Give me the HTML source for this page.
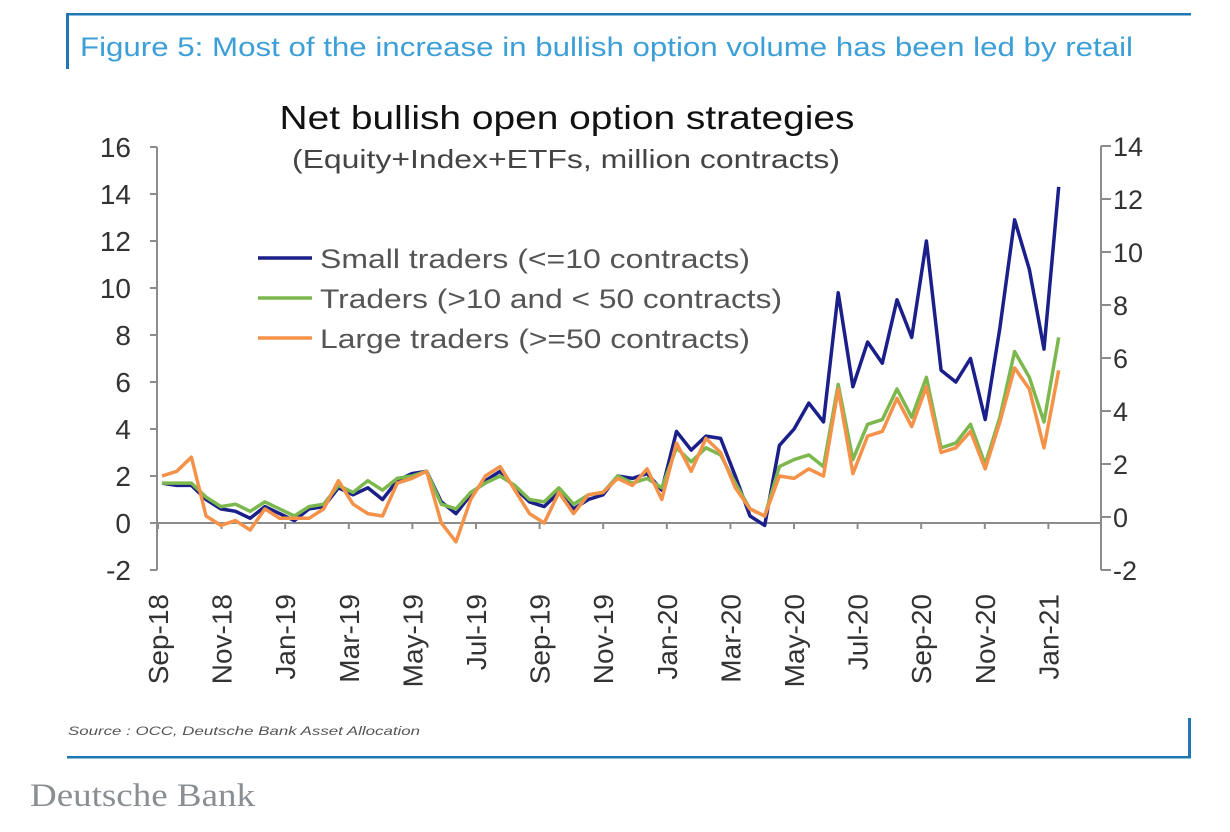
<!DOCTYPE html>
<html><head><meta charset="utf-8"><style>
html,body{margin:0;padding:0;background:#fff;}
svg{display:block;font-family:"Liberation Sans",sans-serif;}
</style></head><body>
<svg id="chart" width="1230" height="832" viewBox="0 0 1230 832">
  <rect x="67" y="13" width="1124" height="2.5" fill="#1f78b4"/>
  <rect x="66" y="13" width="3" height="56" fill="#1f78b4"/>
  <text x="80" y="56" font-size="27" fill="#3d9fd8" textLength="1053" lengthAdjust="spacingAndGlyphs">Figure 5: Most of the increase in bullish option volume has been led by retail</text>
  <text x="567" y="129" font-size="33" fill="#111" text-anchor="middle" textLength="575" lengthAdjust="spacingAndGlyphs">Net bullish open option strategies</text>
  <text x="566" y="168" font-size="26" fill="#444" text-anchor="middle" textLength="548" lengthAdjust="spacingAndGlyphs">(Equity+Index+ETFs, million contracts)</text>
  <g id="axes"></g>
  <g id="series"></g>
  <g>
    <line x1="258" y1="258" x2="312" y2="258" stroke="#1a1f8a" stroke-width="3.5"/>
    <text x="320" y="268" font-size="27" fill="#555" textLength="430" lengthAdjust="spacingAndGlyphs">Small traders (&lt;=10 contracts)</text>
    <line x1="258" y1="298" x2="312" y2="298" stroke="#7cb84e" stroke-width="3.5"/>
    <text x="320" y="308" font-size="27" fill="#555" textLength="462" lengthAdjust="spacingAndGlyphs">Traders (&gt;10 and &lt; 50 contracts)</text>
    <line x1="258" y1="338" x2="312" y2="338" stroke="#f5924a" stroke-width="3.5"/>
    <text x="320" y="348" font-size="27" fill="#555" textLength="430" lengthAdjust="spacingAndGlyphs">Large traders (&gt;=50 contracts)</text>
  </g>
  <text x="68" y="735" font-size="12" font-style="italic" fill="#555" textLength="352" lengthAdjust="spacingAndGlyphs">Source : OCC, Deutsche Bank Asset Allocation</text>
  <rect x="67" y="756" width="1124" height="2.5" fill="#1f78b4"/>
  <rect x="1188" y="718" width="3" height="40" fill="#1f78b4"/>
  <text x="30" y="806" font-size="33" fill="#8a8f94" font-family="Liberation Serif, serif" textLength="225" lengthAdjust="spacingAndGlyphs">Deutsche Bank</text>
</svg>
<script>
const leftTicks = [-2,0,2,4,6,8,10,12,14,16];
const rightTicks = [-2,0,2,4,6,8,10,12,14];
const xLabels = ["Sep-18","Nov-18","Jan-19","Mar-19","May-19","Jul-19","Sep-19","Nov-19","Jan-20","Mar-20","May-20","Jul-20","Sep-20","Nov-20","Jan-21"];
const small = [1.7,1.6,1.6,1.0,0.6,0.5,0.2,0.7,0.4,0.1,0.6,0.7,1.5,1.2,1.5,1.0,1.8,2.1,2.2,0.9,0.4,1.2,1.8,2.2,1.5,0.9,0.7,1.3,0.6,1.0,1.2,2.0,1.9,2.1,1.4,3.9,3.1,3.7,3.6,2.0,0.3,-0.1,3.3,4.0,5.1,4.3,9.8,5.8,7.7,6.8,9.5,7.9,12.0,6.5,6.0,7.0,4.4,8.3,12.9,10.8,7.4,14.3];
const mid = [1.7,1.7,1.7,1.1,0.7,0.8,0.5,0.9,0.6,0.3,0.7,0.8,1.6,1.3,1.8,1.4,1.9,2.0,2.2,0.8,0.6,1.3,1.7,2.0,1.6,1.0,0.9,1.5,0.8,1.2,1.3,2.0,1.7,1.9,1.5,3.2,2.6,3.2,2.9,1.7,0.6,0.3,2.4,2.7,2.9,2.4,5.9,2.7,4.2,4.4,5.7,4.5,6.2,3.2,3.4,4.2,2.5,4.5,7.3,6.2,4.3,7.9];
const large = [2.0,2.2,2.8,0.3,-0.1,0.1,-0.3,0.6,0.2,0.2,0.2,0.6,1.8,0.8,0.4,0.3,1.7,1.9,2.2,0.0,-0.8,1.0,2.0,2.4,1.4,0.4,0.0,1.3,0.4,1.2,1.3,1.9,1.6,2.3,1.0,3.4,2.2,3.6,3.0,1.5,0.6,0.3,2.0,1.9,2.3,2.0,5.7,2.1,3.7,3.9,5.3,4.1,5.8,3.0,3.2,3.9,2.3,4.3,6.6,5.7,3.2,6.5];

const NS = "http://www.w3.org/2000/svg";
const X0 = 157, X1 = 1101, YAX = 523;
const yL = v => 523 - (v) * 23.5;
const yR = v => 517 - (v) * 26.5;
const xIdx = i => 162 + i * 14.7;
const xLab = k => 158 + k * 63.6;
function mk(tag, attrs, parent){const e=document.createElementNS(NS,tag);for(const k in attrs)e.setAttribute(k,attrs[k]);parent.appendChild(e);return e;}
const axes = document.getElementById('axes');
const gray = "#8c8c8c";
let e;
e = mk('line',{x1:X0,y1:yL(16),x2:X0,y2:yL(-2),stroke:gray,'stroke-width':2},axes);


e = mk('line',{x1:X1,y1:yR(14),x2:X1,y2:yR(-2),stroke:gray,'stroke-width':2},axes);


e = mk('line',{x1:X0,y1:YAX,x2:X1,y2:YAX,stroke:gray,'stroke-width':2},axes);


leftTicks.forEach(v=>{
  const y=yL(v);
  e = mk('line',{x1:X0-7,y1:y,x2:X0,y2:y,stroke:gray,'stroke-width':2},axes);
  
  
  e = mk('text',{x:131,y:y+10,'font-size':28,fill:'#333','text-anchor':'end'},axes);
  e.textContent=v;
  
  
});
rightTicks.forEach(v=>{
  const y=yR(v);
  e = mk('line',{x1:X1,y1:y,x2:X1+10,y2:y,stroke:gray,'stroke-width':2},axes);
  
  
  e = mk('text',{x:1113,y:y+10,'font-size':27,fill:'#333'},axes);
  e.textContent=v;
  
  
});
xLabels.forEach((s,k)=>{
  const x=xLab(k);
  e = mk('line',{x1:x,y1:YAX,x2:x,y2:YAX+6,stroke:gray,'stroke-width':2},axes);
  
  
  e = mk('text',{x:0,y:0,'font-size':28,fill:'#333','text-anchor':'end',transform:`translate(${x+10},594) rotate(-90)`},axes);
  e.textContent=s;
  
  
});
const sg = document.getElementById('series');
function line(arr,color,name){
  const p = arr.map((v,i)=>(i?'L':'M')+xIdx(i).toFixed(1)+' '+yL(v).toFixed(1)).join(' ');
  const el = mk('path',{d:p,fill:'none',stroke:color,'stroke-width':3.5,'stroke-linejoin':'round'},sg);
  
  
}
line(small,'#1a1f8a','series-small-traders');
line(mid,'#7cb84e','series-mid-traders');
line(large,'#f5924a','series-large-traders');
</script>
</body></html>
